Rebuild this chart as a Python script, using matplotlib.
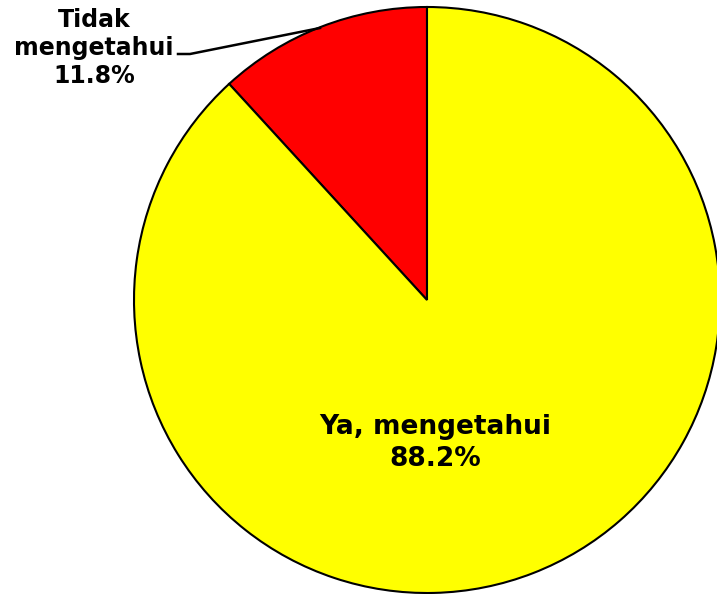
import matplotlib.pyplot as plt

# data
labels = ['Tidak\nmengetahui', 'Ya, mengetahui']
values = [11.8, 88.2]
colors = ['#ff0000', '#ffff00']

fig = plt.figure(figsize=(7.17, 5.94), dpi=100)
ax = fig.add_axes([0, 0, 1, 1])

wedges, _ = ax.pie(values, colors=colors, startangle=90, counterclock=True,
                   center=(427, -300), radius=293,
                   wedgeprops=dict(edgecolor='black', linewidth=1.5))

# pie resets the limits, so set pixel-like limits afterwards
ax.set_xlim(0, 717)
ax.set_ylim(-594, 0)
ax.set_aspect('equal')
ax.axis('off')

# label inside the big slice
ax.text(435, -443, f'{labels[1]}\n{values[1]}%', ha='center', va='center',
        fontsize=19, fontweight='bold', linespacing=1.25)

# outside label for small slice with leader line
ax.text(94, -48, f'{labels[0]}\n{values[0]}%', ha='center', va='center',
        fontsize=17, fontweight='bold', linespacing=1.22)
ax.plot([178, 190, 320], [-54, -54, -28], color='black', linewidth=1.8)

fig.savefig('out.png', dpi=100)
